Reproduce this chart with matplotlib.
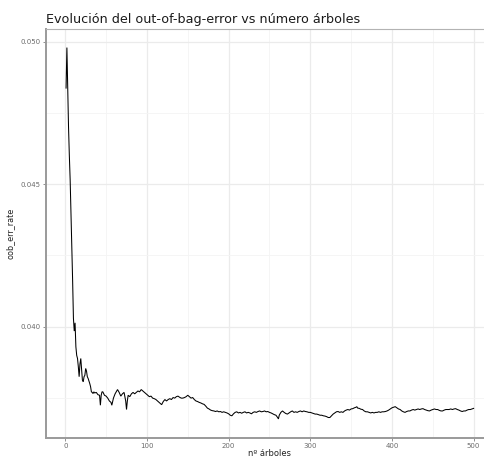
import matplotlib
matplotlib.use("Agg")
import matplotlib.pyplot as plt
from matplotlib.ticker import MultipleLocator, FormatStrFormatter
import numpy as np

# Out-of-bag error recorded as the forest grows
n_trees = [
    1, 2, 3, 4, 5, 6, 7, 8, 9, 10, 11, 12, 13, 14, 15, 16, 17, 18, 19, 20,
    21, 22, 23, 24, 25, 26, 27, 28, 29, 30, 31, 32, 33, 34, 35, 36, 38, 40,
    42, 43, 44, 45, 46, 48, 50, 52, 54, 56, 57, 59, 61, 63, 64, 66, 68, 70,
    72, 74, 75, 76, 77, 79, 81, 83, 85, 87, 89, 91, 93, 95, 97, 99, 101, 103,
    105, 107, 109, 111, 113, 115, 117, 118, 120, 122, 124, 126, 128, 130,
    132, 134, 136, 138, 140, 142, 144, 146, 148, 150, 152, 154, 156, 158,
    160, 162, 164, 166, 168, 170, 172, 174, 176, 178, 180, 182, 184, 186,
    188, 190, 192, 194, 196, 198, 200, 202, 204, 206, 208, 210, 212, 214,
    216, 218, 220, 222, 224, 226, 228, 230, 232, 234, 236, 238, 240, 242,
    244, 246, 248, 250, 252, 254, 256, 258, 260, 261, 262, 264, 266, 268,
    270, 272, 274, 276, 278, 280, 282, 284, 286, 288, 290, 292, 294, 296,
    298, 300, 302, 304, 306, 308, 310, 312, 314, 316, 318, 320, 322, 324,
    326, 328, 330, 332, 334, 336, 338, 340, 342, 344, 346, 348, 350, 352,
    354, 356, 357, 358, 360, 362, 364, 366, 368, 370, 372, 374, 376, 378,
    380, 382, 384, 386, 388, 390, 392, 394, 396, 398, 400, 402, 404, 406,
    408, 410, 412, 414, 416, 418, 420, 422, 424, 426, 428, 430, 432, 434,
    436, 438, 440, 442, 444, 446, 448, 450, 452, 454, 456, 458, 460, 462,
    464, 466, 468, 470, 472, 474, 476, 478, 480, 482, 484, 486, 488, 490,
    492, 494, 496, 498, 500,
]

oob_err_rate = [
    0.04837, 0.04979, 0.04840, 0.04700, 0.04600, 0.04515, 0.04400, 0.04280,
    0.04164, 0.04030, 0.03985, 0.04014, 0.03930, 0.03900, 0.03889, 0.03860,
    0.03825, 0.03870, 0.03889, 0.03850, 0.03813, 0.03807, 0.03825, 0.03830,
    0.03854, 0.03845, 0.03825, 0.03819, 0.03810, 0.03801, 0.03790, 0.03772,
    0.03770, 0.03766, 0.03772, 0.03768, 0.03770, 0.03762, 0.03760, 0.03725,
    0.03760, 0.03772, 0.03772, 0.03760, 0.03757, 0.03750, 0.03740, 0.03735,
    0.03725, 0.03750, 0.03765, 0.03775, 0.03780, 0.03770, 0.03757, 0.03765,
    0.03770, 0.03740, 0.03710, 0.03740, 0.03760, 0.03755, 0.03765, 0.03770,
    0.03765, 0.03770, 0.03775, 0.03772, 0.03780, 0.03775, 0.03770, 0.03765,
    0.03760, 0.03755, 0.03757, 0.03750, 0.03748, 0.03745, 0.03740, 0.03735,
    0.03730, 0.03727, 0.03738, 0.03745, 0.03740, 0.03745, 0.03748, 0.03745,
    0.03752, 0.03750, 0.03755, 0.03757, 0.03753, 0.03750, 0.03750, 0.03752,
    0.03755, 0.03760, 0.03755, 0.03750, 0.03752, 0.03745, 0.03740, 0.03738,
    0.03735, 0.03733, 0.03730, 0.03728, 0.03722, 0.03715, 0.03712, 0.03708,
    0.03706, 0.03705, 0.03703, 0.03705, 0.03702, 0.03703, 0.03700, 0.03702,
    0.03700, 0.03698, 0.03695, 0.03690, 0.03688, 0.03695, 0.03700, 0.03702,
    0.03698, 0.03700, 0.03697, 0.03700, 0.03702, 0.03698, 0.03700, 0.03698,
    0.03695, 0.03700, 0.03702, 0.03700, 0.03703, 0.03705, 0.03702, 0.03703,
    0.03705, 0.03702, 0.03703, 0.03700, 0.03698, 0.03695, 0.03692, 0.03690,
    0.03682, 0.03677, 0.03690, 0.03700, 0.03705, 0.03700, 0.03696, 0.03694,
    0.03698, 0.03702, 0.03705, 0.03700, 0.03702, 0.03700, 0.03703, 0.03705,
    0.03702, 0.03705, 0.03703, 0.03702, 0.03700, 0.03700, 0.03698, 0.03696,
    0.03694, 0.03694, 0.03692, 0.03690, 0.03690, 0.03688, 0.03687, 0.03685,
    0.03682, 0.03682, 0.03688, 0.03694, 0.03698, 0.03702, 0.03703, 0.03700,
    0.03702, 0.03700, 0.03705, 0.03708, 0.03710, 0.03708, 0.03712, 0.03713,
    0.03716, 0.03718, 0.03720, 0.03715, 0.03714, 0.03711, 0.03710, 0.03705,
    0.03702, 0.03702, 0.03700, 0.03698, 0.03700, 0.03698, 0.03700, 0.03700,
    0.03702, 0.03700, 0.03702, 0.03702, 0.03703, 0.03705, 0.03708, 0.03712,
    0.03716, 0.03718, 0.03720, 0.03716, 0.03712, 0.03710, 0.03705, 0.03702,
    0.03700, 0.03703, 0.03705, 0.03705, 0.03708, 0.03710, 0.03708, 0.03710,
    0.03712, 0.03710, 0.03712, 0.03713, 0.03710, 0.03708, 0.03706, 0.03705,
    0.03708, 0.03710, 0.03712, 0.03710, 0.03710, 0.03707, 0.03705, 0.03705,
    0.03708, 0.03710, 0.03710, 0.03710, 0.03712, 0.03710, 0.03712, 0.03713,
    0.03710, 0.03708, 0.03705, 0.03703, 0.03705, 0.03705, 0.03708, 0.03710,
    0.03710, 0.03712, 0.03714,
]

x_ticks = [0, 100, 200, 300, 400, 500]
y_ticks = [0.040, 0.045, 0.050]

title = "Evolución del out-of-bag-error vs número árboles"
x_label = "nº árboles"
y_label = "oob_err_rate"

W, H, DPI = 485, 457, 100
fig = plt.figure(figsize=(W / DPI, H / DPI), dpi=DPI)

# panel in pixel coordinates (extends past the right edge of the canvas)
left_px, right_px, top_px, bottom_px = 45.7, 494.0, 29.0, 437.5
ax = fig.add_axes([left_px / W, 1 - bottom_px / H,
                   (right_px - left_px) / W, (bottom_px - top_px) / H])

x = np.asarray(n_trees, dtype=float)
y = np.asarray(oob_err_rate, dtype=float)
ax.plot(x, y, color="black", lw=0.75, solid_joinstyle="miter")

# ggplot-like 5% expansion
xr = x.max() - x.min()
yr = y.max() - y.min()
ax.set_xlim(x.min() - 0.05 * xr, x.max() + 0.05 * xr)
ax.set_ylim(y.min() - 0.05 * yr, y.max() + 0.05 * yr)

ax.set_xticks(x_ticks)
ax.set_yticks(y_ticks)
ax.xaxis.set_minor_locator(MultipleLocator(50))
ax.yaxis.set_minor_locator(MultipleLocator(0.0025))
ax.yaxis.set_major_formatter(FormatStrFormatter("%.3f"))

ax.grid(which="major", color="#ebebeb", lw=0.9)
ax.grid(which="minor", color="#f4f4f4", lw=0.6)
ax.set_axisbelow(True)

for side in ("top", "right"):
    ax.spines[side].set_color("#b3b3b3")
    ax.spines[side].set_linewidth(0.8)
for side in ("left", "bottom"):
    ax.spines[side].set_color("#9a9a9a")
    ax.spines[side].set_linewidth(1.4)

ax.tick_params(which="major", length=2.5, width=0.6, color="#7f7f7f",
               labelsize=5, labelcolor="#6b6b6b", pad=1.2)
ax.tick_params(which="minor", length=0)

ax.set_xlabel(x_label, fontsize=6.0, color="#222222", labelpad=0.2)
ax.set_ylabel(y_label, fontsize=5.8, color="#222222", labelpad=4)
fig.text(left_px / W + 0.001, 1 - 22.5 / H, title, fontsize=9.2,
         color="#1a1a1a", ha="left", va="baseline")

fig.savefig("out.png", dpi=DPI)
